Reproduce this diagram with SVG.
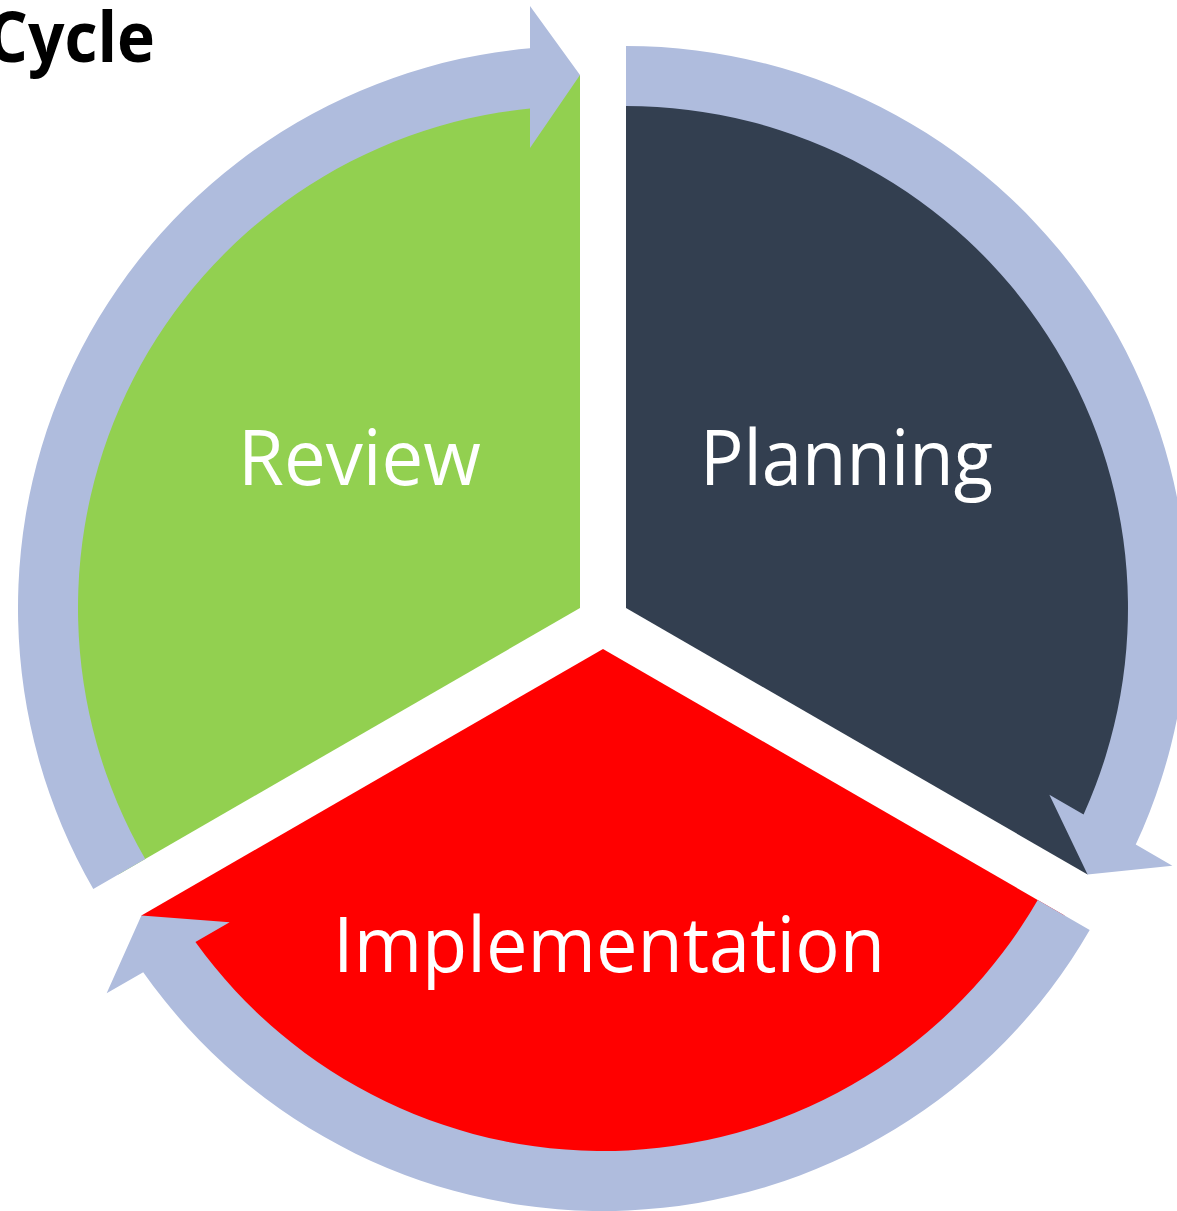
<svg xmlns="http://www.w3.org/2000/svg" width="1177" height="1211" viewBox="0 0 1177 1211">
  <style>
    .lbl { font-family: "Open Sans", "Liberation Sans", sans-serif; font-size: 76px; fill: #FFFFFF; text-anchor: middle; }
    .title { font-family: "Open Sans", "Liberation Sans", sans-serif; font-size: 70px; font-weight: bold; fill: #000000; text-anchor: end; }
    .arrow { fill: #AFBCDD; stroke: none; }
  </style>
  <rect x="0" y="0" width="1177" height="1211" fill="#FFFFFF"/>
  <text class="title" x="155" y="62" textLength="168" lengthAdjust="spacingAndGlyphs">Cycle</text>

  <g id="node-planning">
    <path d="M626,608 L626,75 A533,533 0 0 1 1087.59,874.5 Z" fill="#333F50"/>
    <text class="lbl" x="846.5" y="485" textLength="293" lengthAdjust="spacingAndGlyphs">Planning</text>
  </g>
  <g id="node-review">
    <path d="M580,608 L118.41,874.5 A533,533 0 0 1 580,75 Z" fill="#92D050"/>
    <text class="lbl" x="359.5" y="485" textLength="243" lengthAdjust="spacingAndGlyphs">Review</text>
  </g>
  <g id="node-implementation">
    <path d="M603,649 L1064.59,915.5 A533,533 0 0 1 141.41,915.5 Z" fill="#FF0000"/>
    <text class="lbl" x="609" y="972" textLength="552" lengthAdjust="spacingAndGlyphs">Implementation</text>
  </g>

  <g id="connectors">
    <path class="arrow" d="M626,46 A562,562 0 0 1 1135.77,844.59 L1172.35,865.7 L1087.59,874.5 L1049.37,794.7 L1083.58,814.45 A502,502 0 0 0 626,106 Z"/>
    <path class="arrow" d="M1089.71,930 A562,562 0 0 1 143.23,972.19 L106.65,993.3 L141.41,915.5 L229.63,922.3 L195.42,942.05 A502,502 0 0 0 1037.75,900 Z"/>
    <path class="arrow" d="M93.29,889 A562,562 0 0 1 530,48.23 L530,6 L580,75 L530,148 L530,108.5 A502,502 0 0 0 145.25,859 Z"/>
  </g>
</svg>
